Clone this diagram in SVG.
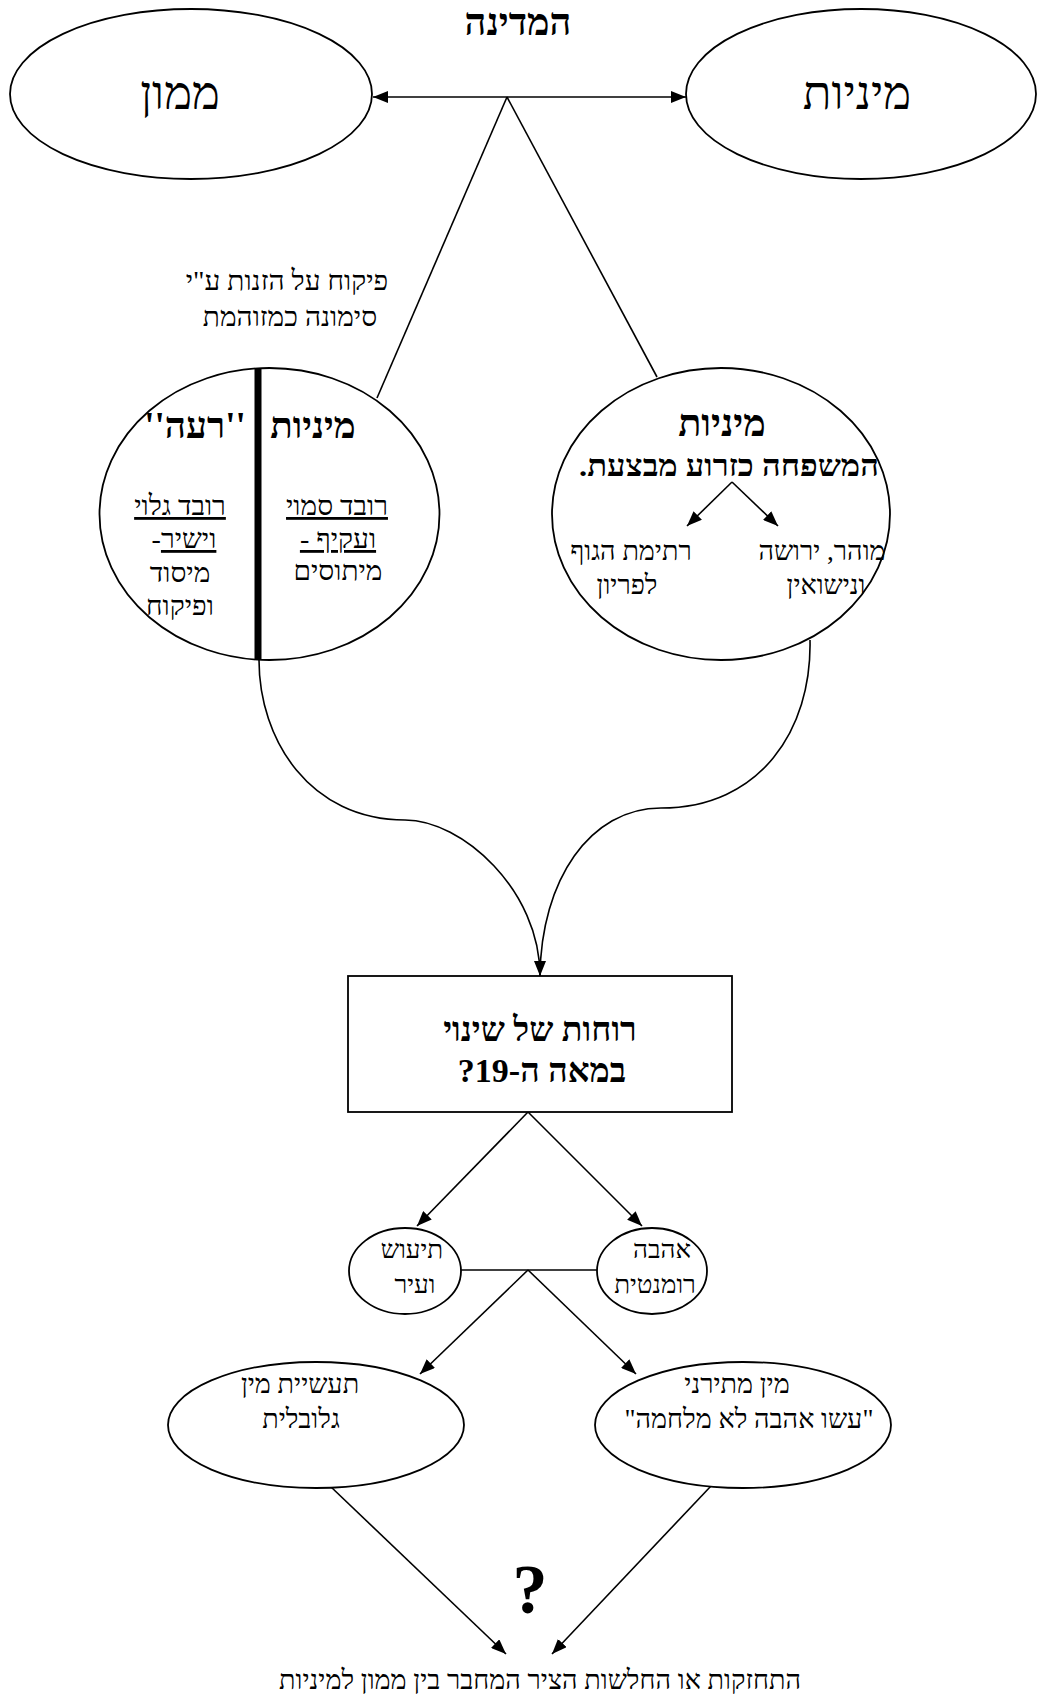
<svg xmlns="http://www.w3.org/2000/svg" width="1039" height="1697" viewBox="0 0 1039 1697">
<style>
.t{font-family:"Liberation Serif","DejaVu Sans",serif;direction:rtl;text-anchor:middle;fill:#000}
.b{font-weight:bold}
.n{fill:#fff;stroke:#000;stroke-width:1.8}
.c{fill:none;stroke:#000;stroke-width:1.6}
.u{text-decoration:underline}
</style>
<defs>
<marker id="ah" markerUnits="userSpaceOnUse" markerWidth="16" markerHeight="12" refX="15" refY="6" orient="auto-start-reverse">
<path d="M0,0 L15,6 L0,12 z" fill="#000"/>
</marker>
</defs>
<rect width="1039" height="1697" fill="#fff"/>

<g id="connectors">
<line class="c" x1="373" y1="97" x2="686" y2="97" marker-start="url(#ah)" marker-end="url(#ah)"/>
<line class="c" x1="507" y1="97" x2="377" y2="398"/>
<line class="c" x1="507" y1="97" x2="657" y2="377"/>
<path class="c" d="M259,660 C259,740 310,820 405,820 C462,820 540,890 540,976" marker-end="url(#ah)"/>
<path class="c" d="M810,640 C812,730 760,808 661,808 C590,808 541,880 540,976"/>
<line class="c" x1="528" y1="1112" x2="417" y2="1226" marker-end="url(#ah)"/>
<line class="c" x1="528" y1="1112" x2="642" y2="1226" marker-end="url(#ah)"/>
<line class="c" x1="461" y1="1270" x2="597" y2="1270"/>
<line class="c" x1="528" y1="1270" x2="420" y2="1374" marker-end="url(#ah)"/>
<line class="c" x1="528" y1="1270" x2="636" y2="1374" marker-end="url(#ah)"/>
<line class="c" x1="330" y1="1486" x2="506" y2="1654" marker-end="url(#ah)"/>
<line class="c" x1="711" y1="1486" x2="552" y2="1654" marker-end="url(#ah)"/>
</g>

<g id="title">
<text class="t b" x="518" y="35" font-size="38">המדינה</text>
</g>

<g id="mamon">
<ellipse class="n" cx="191" cy="94" rx="181" ry="85"/>
<text class="t" x="180" y="109" font-size="47">ממון</text>
</g>

<g id="miniut-top">
<ellipse class="n" cx="861" cy="94" rx="175" ry="85"/>
<text class="t" x="857" y="109" font-size="47">מיניות</text>
</g>

<g id="pikuach-label">
<text class="t" x="287" y="290" font-size="28">פיקוח על הזנות ע"י</text>
<text class="t" x="290" y="326" font-size="28">סימונה כמזוהמת</text>
</g>

<g id="split-circle">
<ellipse class="n" cx="269.5" cy="514" rx="170" ry="146"/>
<line x1="258" y1="368" x2="258" y2="660" stroke="#000" stroke-width="7"/>
<text class="t b" x="313" y="438" font-size="37">מיניות</text>
<text class="t b" x="195" y="438" font-size="37">''רעה''</text>
<text class="t u" x="337" y="515" font-size="28">רובד סמוי</text>
<text class="t u" x="338" y="548" font-size="28">ועקיף -</text>
<text class="t" x="338" y="580" font-size="28">מיתוסים</text>
<text class="t u" x="180" y="515" font-size="28">רובד גלוי</text>
<text class="t" x="184" y="548" font-size="28"><tspan class="u">וישיר</tspan>-</text>
<text class="t" x="180" y="582" font-size="28">מיסוד</text>
<text class="t" x="180" y="615" font-size="28">ופיקוח</text>
</g>

<g id="family-circle">
<ellipse class="n" cx="721" cy="514" rx="169" ry="146"/>
<text class="t b" x="722" y="436" font-size="38">מיניות</text>
<text class="t b" x="729" y="476" font-size="30" textLength="300" lengthAdjust="spacingAndGlyphs">המשפחה כזרוע מבצעת.</text>
<line class="c" x1="732" y1="482" x2="687" y2="526" marker-end="url(#ah)"/>
<line class="c" x1="732" y1="482" x2="778" y2="526" marker-end="url(#ah)"/>
<text class="t" x="822" y="560" font-size="27">מוהר, ירושה</text>
<text class="t" x="826" y="594" font-size="27">ונישואין</text>
<text class="t" x="631" y="560" font-size="27">רתימת הגוף</text>
<text class="t" x="627" y="594" font-size="27">לפריון</text>
</g>

<g id="change-box">
<rect class="n" x="348" y="976" width="384" height="136" stroke-width="2"/>
<text class="t b" x="540" y="1041" font-size="34">רוחות של שינוי</text>
<text class="t b" x="542" y="1082" font-size="34">במאה ה-19?</text>
</g>

<g id="industrial">
<ellipse class="n" cx="405" cy="1271" rx="56" ry="43"/>
<text class="t" x="412" y="1258" font-size="26">תיעוש</text>
<text class="t" x="415" y="1293" font-size="26">ועיר</text>
</g>

<g id="romantic">
<ellipse class="n" cx="652" cy="1271" rx="55" ry="43"/>
<text class="t" x="662" y="1258" font-size="26">אהבה</text>
<text class="t" x="655" y="1293" font-size="26">רומנטית</text>
</g>

<g id="sex-industry">
<ellipse class="n" cx="316" cy="1425" rx="148" ry="63"/>
<text class="t" x="300" y="1393" font-size="27">תעשיית מין</text>
<text class="t" x="301" y="1428" font-size="27">גלובלית</text>
</g>

<g id="permissive">
<ellipse class="n" cx="743" cy="1425" rx="148" ry="63"/>
<text class="t" x="737" y="1393" font-size="27">מין מתירני</text>
<text class="t" x="749" y="1428" font-size="27">"עשו אהבה לא מלחמה"</text>
</g>

<g id="outcome">
<text class="t b" x="530" y="1613" font-size="70">?</text>
<text class="t" x="540" y="1689" font-size="27">התחזקות או החלשות הציר המחבר בין ממון למיניות</text>
</g>
</svg>
